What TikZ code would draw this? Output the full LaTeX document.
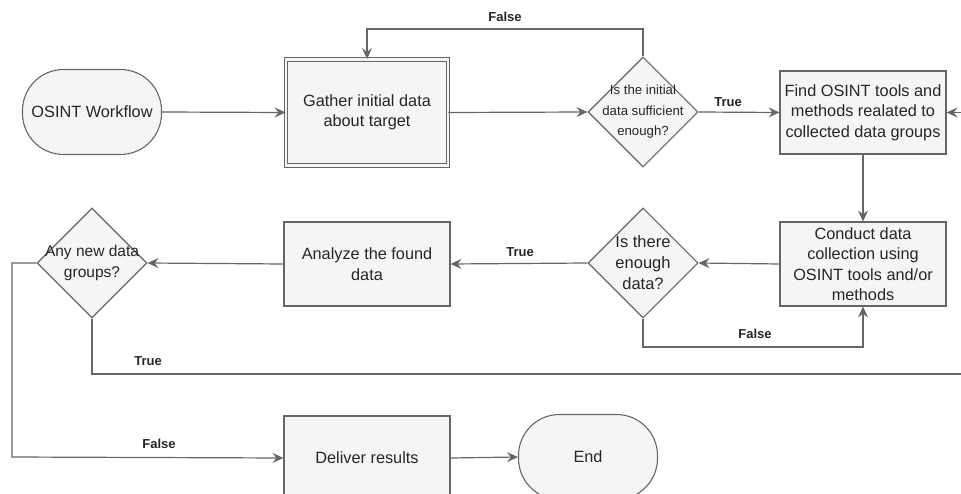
\documentclass[tikz,border=0pt]{standalone}
\usepackage{fontspec}
\setmainfont{Liberation Sans}
\usetikzlibrary{shapes.geometric,arrows.meta}

\definecolor{boxfill}{HTML}{F5F5F5}
\definecolor{boxline}{HTML}{666666}
\definecolor{ink}{HTML}{262626}

\tikzset{
  base/.style={draw=boxline, fill=boxfill, line width=1.1pt, text=ink,
    inner sep=0pt, align=center, font=\fontsize{16.3}{20.5}\selectfont},
  terminal/.style={base, rounded corners=41pt, minimum width=139pt, minimum height=85pt},
  process/.style={base, rectangle, minimum width=166pt, minimum height=84pt},
  doubleproc/.style={process, line width=0.9pt, double=boxfill, double distance=2.4pt,
    minimum width=162pt, minimum height=106pt},
  decision/.style={base, diamond, aspect=1, minimum width=110pt, minimum height=110pt},
  dlabel/.style={text=ink, align=center, inner sep=0pt},
  flow/.style={draw=boxline, line width=1.2pt,
    -{Stealth[length=11pt, width=10pt, inset=4pt]}},
  edgetext/.style={text=ink, font=\bfseries\fontsize{13}{15}\selectfont, inner sep=0pt}
}

\begin{document}
\begin{tikzpicture}[x=1pt, y=-1pt]
  \useasboundingbox (0,0) rectangle (961,494);

  % flowchart steps
  \node[terminal] (start) at (92,112) {OSINT Workflow};
  \node[doubleproc] (gather) at (367,112.5) {Gather initial data\\about target};
  \node[decision, label={[dlabel, font=\fontsize{13.2}{20.5}\selectfont]center:Is the initial\\data sufficient\\enough?}] (dec1) at (643,112) {};
  \node[process, minimum height=83pt] (find) at (863,112.5) {Find OSINT tools and\\methods realated to\\collected data groups};
  \node[process] (conduct) at (863,264) {Conduct data\\collection using\\OSINT tools and/or\\methods};
  \node[decision, label={[dlabel, font=\fontsize{16.5}{21}\selectfont]center:Is there\\enough\\data?}] (dec2) at (643,263) {};
  \node[process] (analyze) at (367,264) {Analyze the found\\data};
  \node[decision, label={[dlabel, font=\fontsize{15.5}{21}\selectfont]center:Any new data\\groups?}] (dec3) at (92,263) {};
  \node[process] (deliver) at (367,458) {Deliver results};
  \node[terminal] (endn) at (588,457) {End};

  % connectors
  \draw[flow] (start.east) -- (gather.west);
  \draw[flow] (gather.east) -- (dec1.west);
  \draw[flow] (dec1.north) |- (367,29) -- (gather.north);
  \draw[flow] (dec1.east) -- (find.west);
  \draw[flow] (find.south) -- (conduct.north);
  \draw[flow] (conduct.west) -- (dec2.east);
  \draw[flow] (dec2.south) |- (863,347) -- (conduct.south);
  \draw[flow] (dec2.west) -- (analyze.east);
  \draw[flow] (analyze.west) -- (dec3.east);
  \draw[flow] (dec3.south) |- (975,374) |- (find.east);
  \draw[flow] (dec3.west) -| (12,457) -- (deliver.west);
  \draw[flow] (deliver.east) -- (endn.west);

  % branch labels
  \node[edgetext] (lf1) at (505,17) {False};
  \node[edgetext] (lt1) at (728,102) {True};
  \node[edgetext] (lf2) at (755,334) {False};
  \node[edgetext] (lt2) at (520,252) {True};
  \node[edgetext] (lt3) at (148,361) {True};
  \node[edgetext] (lf3) at (159,444) {False};
\end{tikzpicture}
\end{document}
